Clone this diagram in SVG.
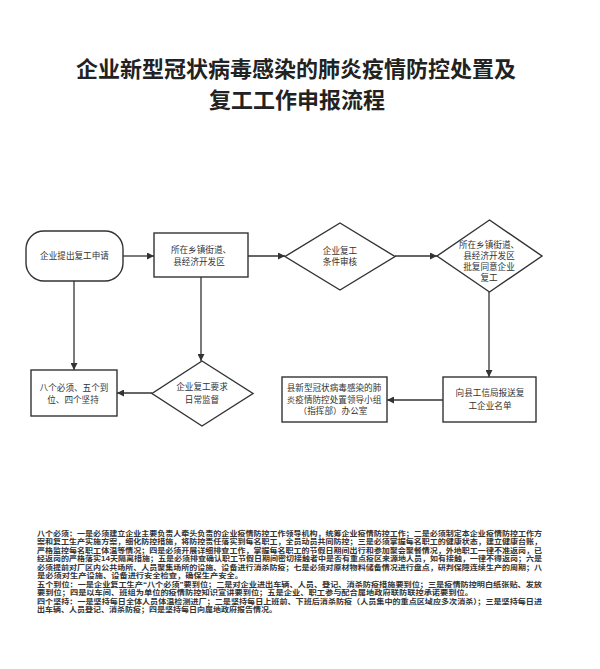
<svg xmlns="http://www.w3.org/2000/svg" width="600" height="669" viewBox="0 0 600 669">
<defs>
<marker id="arr" viewBox="0 0 10 10" refX="10" refY="5" markerWidth="7" markerHeight="7" markerUnits="userSpaceOnUse" orient="auto">
<path d="M0,0 L10,5 L0,10 z" fill="#333"/>
</marker>
<style>
.title{font-family:"Noto Sans CJK SC","Noto Sans",sans-serif;font-size:22px;font-weight:bold;fill:#222;text-anchor:middle}
.node{fill:#fff;stroke:#333;stroke-width:1.4}
.lbl{font-family:"Noto Sans CJK SC","Noto Sans",sans-serif;font-size:8.6px;fill:#333;text-anchor:middle}
.edge{fill:none;stroke:#333;stroke-width:1.3;marker-end:url(#arr)}
.note{font-family:"Liberation Sans","Noto Sans CJK SC",sans-serif;font-size:7.4px;font-weight:bold;fill:#333}
</style>
</defs>
<rect width="600" height="669" fill="#fff"/>
<g id="title">
<text class="title" x="296" y="77">企业新型冠状病毒感染的肺炎疫情防控处置及</text>
<text class="title" x="297" y="108">复工工作申报流程</text>
</g>
<g id="edges">
<line class="edge" x1="123" y1="256" x2="154" y2="256"/>
<line class="edge" x1="248" y1="256" x2="285" y2="256"/>
<line class="edge" x1="395" y1="256" x2="437" y2="256"/>
<line class="edge" x1="489" y1="292" x2="489" y2="377"/>
<line class="edge" x1="443" y1="400" x2="387" y2="400"/>
<line class="edge" x1="74" y1="281" x2="74" y2="370"/>
<line class="edge" x1="201" y1="277" x2="201" y2="361"/>
<line class="edge" x1="152" y1="393" x2="117" y2="393"/>
</g>
<g id="n1">
<rect class="node" x="26" y="231" width="97" height="50" rx="18" ry="18"/>
<text class="lbl" x="74.5" y="259">企业提出复工申请</text>
</g>
<g id="n2">
<rect class="node" x="154" y="233" width="94" height="44"/>
<text class="lbl" x="201" y="253">所在乡镇街道、</text>
<text class="lbl" x="199" y="265">县经济开发区</text>
</g>
<g id="n3">
<polygon class="node" points="340,223 395,256.5 340,290 285,256.5"/>
<text class="lbl" x="340" y="254">企业复工</text>
<text class="lbl" x="340" y="265">条件审核</text>
</g>
<g id="n4">
<polygon class="node" points="489.5,220 542,256 489.5,292 437,256"/>
<text class="lbl" x="489" y="248">所在乡镇街道、</text>
<text class="lbl" x="489" y="259">县经济开发区</text>
<text class="lbl" x="489" y="270">批复同意企业</text>
<text class="lbl" x="489" y="281">复工</text>
</g>
<g id="n5">
<rect class="node" x="443" y="377" width="93" height="45"/>
<text class="lbl" x="490" y="396">向县工信局报送复</text>
<text class="lbl" x="490" y="409">工企业名单</text>
</g>
<g id="n6">
<rect class="node" x="282" y="377" width="105" height="45"/>
<text class="lbl" x="334" y="391">县新型冠状病毒感染的肺</text>
<text class="lbl" x="334" y="403">炎疫情防控处置领导小组</text>
<text class="lbl" x="333" y="414">（指挥部）办公室</text>
</g>
<g id="n7">
<rect class="node" x="31" y="370" width="86" height="46"/>
<text class="lbl" x="74" y="391">八个必须、五个到</text>
<text class="lbl" x="73" y="403">位、四个坚持</text>
</g>
<g id="n8">
<polygon class="node" points="202,361 253,393.5 202,426 152,393.5"/>
<text class="lbl" x="202" y="390">企业复工要求</text>
<text class="lbl" x="202" y="403">日常监督</text>
</g>
<g id="notes">
<text class="note" x="37" y="536" textLength="505" lengthAdjust="spacingAndGlyphs">八个必须：一是必须建立企业主要负责人牵头负责的企业疫情防控工作领导机构，统筹企业疫情防控工作；二是必须制定本企业疫情防控工作方</text>
<text class="note" x="37" y="544.4" textLength="505" lengthAdjust="spacingAndGlyphs">案和复工生产实施方案，细化防控措施，将防控责任落实到每名职工，全员动员共同防控；三是必须掌握每名职工的健康状态，建立健康台账，</text>
<text class="note" x="37" y="552.9" textLength="505" lengthAdjust="spacingAndGlyphs">严格监控每名职工体温等情况；四是必须开展详细排查工作，掌握每名职工的节假日期间出行和参加聚会聚餐情况，外地职工一律不准返岗，已</text>
<text class="note" x="37" y="561.3" textLength="505" lengthAdjust="spacingAndGlyphs">经返岗的严格落实14天隔离措施；五是必须排查确认职工节假日期间密切接触者中是否有重点疫区来源地人员，如有接触，一律不得返岗；六是</text>
<text class="note" x="37" y="569.8" textLength="505" lengthAdjust="spacingAndGlyphs">必须提前对厂区内公共场所、人员聚集场所的设施、设备进行消杀防疫；七是必须对原材物料储备情况进行盘点，研判保障连续生产的周期；八</text>
<text class="note" x="37" y="578.2" textLength="206" lengthAdjust="spacingAndGlyphs">是必须对生产设施、设备进行安全检查，确保生产安全。</text>
<text class="note" x="37" y="586.6" textLength="505" lengthAdjust="spacingAndGlyphs">五个到位：一是企业复工生产“八个必须”要到位；二是对企业进出车辆、人员、登记、消杀防疫措施要到位；三是疫情防控明白纸张贴、发放</text>
<text class="note" x="37" y="595.1" textLength="436" lengthAdjust="spacingAndGlyphs">要到位；四是以车间、班组为单位的疫情防控知识宣讲要到位；五是企业、职工参与配合属地政府联防联控承诺要到位。</text>
<text class="note" x="37" y="603.5" textLength="505" lengthAdjust="spacingAndGlyphs">四个坚持：一是坚持每日全体人员体温检测进厂；二是坚持每日上班前、下班后消杀防疫（人员集中的重点区域应多次消杀）；三是坚持每日进</text>
<text class="note" x="37" y="612" textLength="240" lengthAdjust="spacingAndGlyphs">出车辆、人员登记、消杀防疫；四是坚持每日向属地政府报告情况。</text>
</g>
</svg>
